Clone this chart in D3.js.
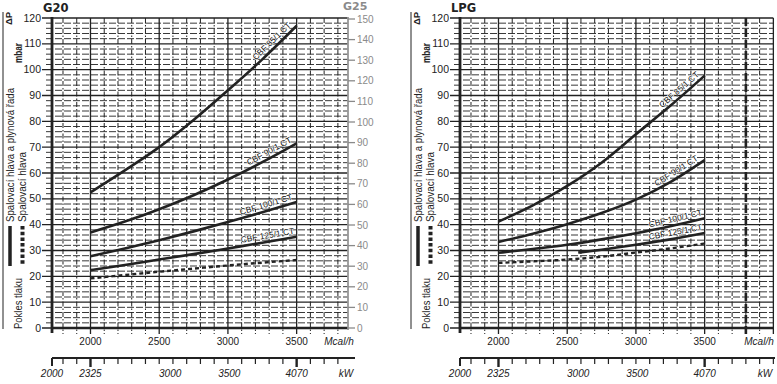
<!DOCTYPE html>
<html lang="cs">
<head>
<meta charset="utf-8">
<title>Pokles tlaku - G20 / LPG</title>
<script src="https://cdn.jsdelivr.net/npm/d3@7"></script>
<style>
  body { margin: 0; background: #fff; }
  text { font-family: "Liberation Sans", Arial, sans-serif; fill: #222; }
</style>
</head>
<body>
<svg id="chart" width="777" height="384"></svg>
<script>
// data (mbar vs Mcal/h)
var mcal = [2000, 2250, 2500, 2750, 3000, 3250, 3500];

var g20_85  = [52.5, 61.0, 70.0, 80.5, 92.0, 104.0, 117.0];
var g20_90  = [37.0, 41.2, 46.0, 51.4, 57.5, 64.2, 71.5];
var g20_100 = [27.8, 30.8, 34.0, 37.4, 41.0, 44.8, 48.8];
var g20_125 = [22.4, 24.4, 26.5, 28.6, 30.8, 33.0, 35.3];
var g20_dash = [19.2, 20.5, 21.8, 23.0, 24.2, 25.3, 26.3];

var lpg_85  = [41.2, 47.5, 55.0, 64.0, 75.0, 86.0, 97.7];
var lpg_90  = [33.3, 36.5, 40.2, 44.5, 49.7, 56.5, 65.0];
var lpg_100 = [29.1, 30.6, 32.2, 34.3, 36.7, 39.4, 42.5];
var lpg125Mcal = [2580, 2750, 3000, 3250, 3500];
var lpg_125 = [29.2, 30.3, 32.2, 34.3, 36.8];
var lpg_dash = [25.2, 25.8, 26.5, 27.6, 29.2, 30.8, 32.7];

var mbarTicks = d3.range(0, 121, 10);
var g25Ticks = d3.range(0, 151, 10);
var mcalLabels = [2000, 2500, 3000, 3500];
var kwLabels = [2000, 2325, 3000, 3500, 4070];
var KW_PER_MCAL = 4070 / 3500;

var svg = d3.select("#chart");
var ink = "#222";

var y = d3.scaleLinear().domain([0, 120]).range([328, 18]);
var yG25 = d3.scaleLinear().domain([0, 150]).range([328, 19]);

function zip(xs, vs) { return xs.map(function(m, i){ return { m: m, v: vs[i] }; }); }

function panel(p) {
  var g = svg.append("g");
  var x = d3.scaleLinear().domain([1720, p.xMax])
    .range([p.left, p.left + (p.xMax - 1720) * 0.13744]);
  var right = x.range()[1];

  // horizontal grid, every 2 mbar
  g.selectAll(".hgrid").data(d3.range(0, 121, 2)).enter().append("line")
    .attr("x1", function(d){ return d % 10 == 0 ? p.left - 10 : p.left - 6; })
    .attr("x2", right)
    .attr("y1", function(d){ return y(d); })
    .attr("y2", function(d){ return y(d); })
    .attr("stroke", ink)
    .attr("stroke-width", function(d){ return d % 10 == 0 ? 1.3 : 0.9; })
    .attr("stroke-dasharray", function(d){ return d % 10 == 0 ? null : "7,2"; });

  // vertical grid, every 100 Mcal/h
  g.selectAll(".vgrid").data(d3.range(1800, p.xMax + 1, 100)).enter().append("line")
    .attr("x1", function(d){ return x(d); })
    .attr("x2", function(d){ return x(d); })
    .attr("y1", y(120))
    .attr("y2", 334)
    .attr("stroke", ink)
    .attr("stroke-width", function(d){ return d % 500 == 0 ? 1.3 : 1; })
    .attr("stroke-dasharray", function(d){ return d % 500 == 0 ? null : "5,2,1.5,2"; });

  if (p.marker) {
    g.append("line")
      .attr("x1", x(p.marker)).attr("x2", x(p.marker))
      .attr("y1", y(120)).attr("y2", 334)
      .attr("stroke", ink).attr("stroke-width", 2.6)
      .attr("stroke-dasharray", "8,3");
  }

  // axes lines
  g.append("line").attr("x1", p.left).attr("x2", p.left)
    .attr("y1", y(120) - 1).attr("y2", 333)
    .attr("stroke", ink).attr("stroke-width", 2.8);
  g.append("line").attr("x1", p.left).attr("x2", right)
    .attr("y1", 328).attr("y2", 328)
    .attr("stroke", ink).attr("stroke-width", 2.6);

  // mbar labels
  g.selectAll(".ylab").data(mbarTicks).enter().append("text")
    .attr("x", p.left - 11)
    .attr("y", function(d){ return y(d) + 3.5; })
    .attr("text-anchor", "end")
    .style("font-size", "10.5px")
    .text(function(d){ return d; });

  // Mcal/h labels
  g.selectAll(".xlab").data(mcalLabels).enter().append("text")
    .attr("x", function(d){ return x(d); })
    .attr("y", 345)
    .attr("text-anchor", "middle")
    .style("font-size", "10px")
    .text(function(d){ return d; });
  g.append("text").attr("x", p.mcalX).attr("y", 345)
    .attr("text-anchor", "middle")
    .style("font-size", "10px").style("font-style", "italic")
    .text("Mcal/h");

  // kW axis
  g.append("line").attr("x1", p.left).attr("x2", p.kwEnd)
    .attr("y1", 358).attr("y2", 358)
    .attr("stroke", ink).attr("stroke-width", 2);
  g.selectAll(".kwtick").data(d3.range(1800, p.xMax + 1, 100)).enter().append("line")
    .attr("x1", function(d){ return x(d); })
    .attr("x2", function(d){ return x(d); })
    .attr("y1", 358)
    .attr("y2", function(d){ return (d == 2000 || d == 3500) ? 367 : 364; })
    .attr("stroke", ink)
    .attr("stroke-width", function(d){ return (d == 2000 || d == 3500) ? 2.4 : 1.2; });
  g.append("line").attr("x1", p.left).attr("x2", p.left)
    .attr("y1", 358).attr("y2", 366)
    .attr("stroke", ink).attr("stroke-width", 2);
  g.selectAll(".kwlab").data(kwLabels).enter().append("text")
    .attr("x", function(d){ return x(d / KW_PER_MCAL); })
    .attr("y", 377)
    .attr("text-anchor", "middle")
    .style("font-size", "10px").style("font-style", "italic")
    .text(function(d){ return d; });
  g.append("text").attr("x", p.kwX).attr("y", 377)
    .attr("text-anchor", "middle")
    .style("font-size", "10px").style("font-style", "italic")
    .text("kW");

  // title
  g.append("text").attr("x", p.left - 9).attr("y", 12)
    .style("font-size", "11.5px").style("font-weight", "bold")
    .style("font-family", "'DejaVu Sans', sans-serif")
    .text(p.title);

  // side annotation
  var sx = p.left - 49;
  g.append("line").attr("x1", sx).attr("x2", sx)
    .attr("y1", 12).attr("y2", 329)
    .attr("stroke", ink).attr("stroke-width", 1);
  function vtext(tx, ty, str, size, len, bold) {
    var t = g.append("text")
      .attr("transform", "translate(" + tx + "," + ty + ") rotate(-90)")
      .style("font-size", size + "px")
      .text(str);
    if (len) t.attr("textLength", len).attr("lengthAdjust", "spacingAndGlyphs");
    if (bold) t.style("font-weight", "bold");
  }
  vtext(sx + 9, 25, "\u0394P", 9.5, null, true);
  vtext(sx + 18.5, 63, "mbar", 10, 20, true);
  vtext(sx + 10.5, 222, "Spalovací hlava a plynová řada", 10.5, 134);
  vtext(sx + 22.5, 222, "Spalovací hlava", 10.5, 70);
  vtext(sx + 18.5, 329, "Pokles tlaku", 11, 51);
  g.append("line").attr("x1", sx + 7).attr("x2", sx + 7)
    .attr("y1", 226).attr("y2", 266)
    .attr("stroke", ink).attr("stroke-width", 3.5);
  g.append("line").attr("x1", sx + 19.5).attr("x2", sx + 19.5)
    .attr("y1", 226).attr("y2", 266)
    .attr("stroke", ink).attr("stroke-width", 4)
    .attr("stroke-dasharray", "3.5,2.2");

  // curves
  var line = d3.line()
    .x(function(d){ return x(d.m); })
    .y(function(d){ return y(d.v); })
    .curve(d3.curveMonotoneX);

  p.series.forEach(function(s) {
    var pts = zip(s.xs, s.vs);
    g.append("path").datum(pts)
      .attr("d", line)
      .attr("fill", "none")
      .attr("stroke", ink)
      .attr("stroke-width", s.dashed ? 2.4 : 2.6)
      .attr("stroke-dasharray", s.dashed ? "4,3" : null);
    if (s.name) {
      var a = pts[pts.length - 2], b = pts[pts.length - 1];
      var ang = Math.atan2(y(b.v) - y(a.v), x(b.m) - x(a.m)) * 180 / Math.PI;
      var lx = x(s.labelAt), ly = y(a.v + (b.v - a.v) * (s.labelAt - a.m) / (b.m - a.m));
      g.append("text")
        .attr("transform", "translate(" + lx + "," + ly + ") rotate(" + ang + ")")
        .attr("x", 0).attr("y", -3.5)
        .attr("text-anchor", "end")
        .style("font-size", "8.5px")
        .style("fill", "#111")
        .style("paint-order", "stroke")
        .style("stroke", "#fff").style("stroke-width", "1.2px")
        .text(s.name);
    }
  });

  return x;
}

panel({
  left: 52, xMax: 3870, title: "G20", mcalX: 339, kwEnd: 355, kwX: 346,
  series: [
    { xs: mcal, vs: g20_85, name: "CBF 85/1 CT", labelAt: 3480 },
    { xs: mcal, vs: g20_90, name: "CBF 90/1 CT", labelAt: 3480 },
    { xs: mcal, vs: g20_100, name: "CBF 100/1 CT", labelAt: 3480 },
    { xs: mcal, vs: g20_125, name: "CBF 125/1 CT", labelAt: 3490 },
    { xs: mcal, vs: g20_dash, dashed: true }
  ]
});

panel({
  left: 460, xMax: 4000, title: "LPG", marker: 3800, mcalX: 759, kwEnd: 775, kwX: 765,
  series: [
    { xs: mcal, vs: lpg_85, name: "CBF 85/1 CT", labelAt: 3480 },
    { xs: mcal, vs: lpg_90, name: "CBF 90/1 CT", labelAt: 3470 },
    { xs: mcal, vs: lpg_100, name: "CBF 100/1 CT", labelAt: 3490 },
    { xs: lpg125Mcal, vs: lpg_125, name: "CBF 125/1 CT", labelAt: 3490 },
    { xs: mcal, vs: lpg_dash, dashed: true }
  ]
});

// G25 secondary axis on the G20 panel
var g25 = svg.append("g");
var gx = 348;
var grey = "#8a8a8a";
g25.append("line").attr("x1", gx).attr("x2", gx)
  .attr("y1", y(120) - 1).attr("y2", 330)
  .attr("stroke", grey).attr("stroke-width", 1.6);
g25.selectAll(".t").data(g25Ticks).enter().append("line")
  .attr("x1", gx).attr("x2", gx + 7)
  .attr("y1", function(d){ return yG25(d); })
  .attr("y2", function(d){ return yG25(d); })
  .attr("stroke", grey).attr("stroke-width", 1.3);
g25.selectAll(".l").data(g25Ticks).enter().append("text")
  .attr("x", gx + 9)
  .attr("y", function(d){ return yG25(d) + 3.5; })
  .style("font-size", "10px")
  .style("fill", grey)
  .text(function(d){ return d; });
g25.append("text").attr("x", 343).attr("y", 10)
  .style("font-size", "11px").style("font-weight", "bold")
  .style("font-family", "'DejaVu Sans', sans-serif")
  .style("fill", grey)
  .text("G25");
</script>
</body>
</html>
